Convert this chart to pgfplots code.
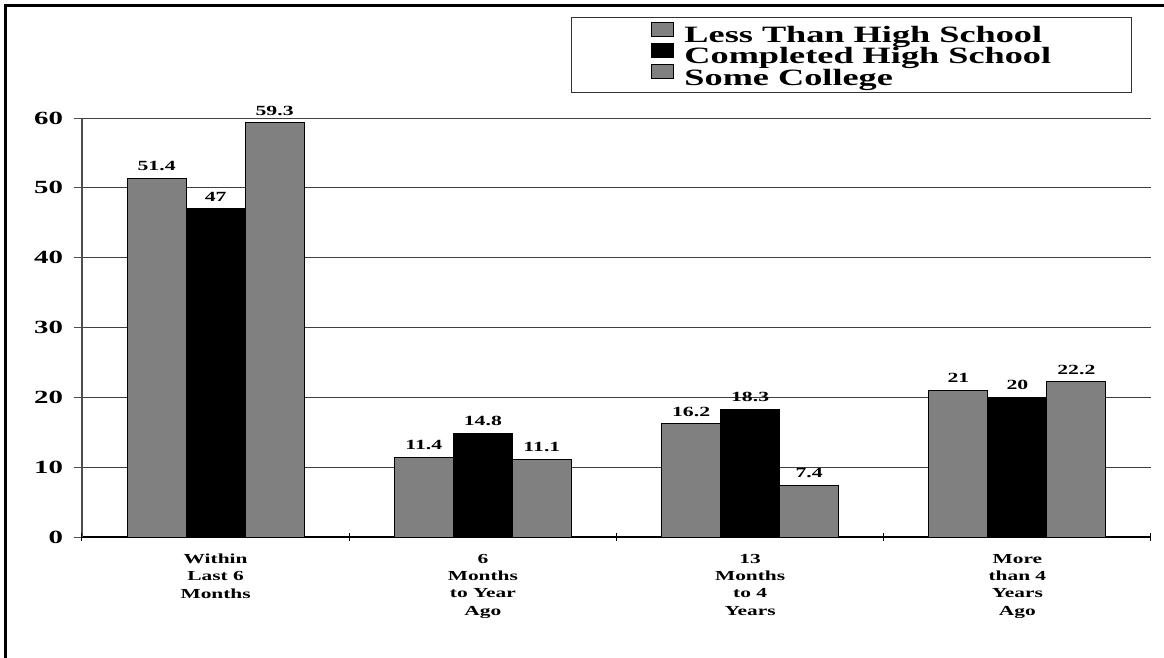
\documentclass[border=0pt]{standalone}
\usepackage{fontspec}
\setmainfont{Liberation Serif}[FakeStretch=1.55]
\usepackage{pgfplots}
\pgfplotsset{compat=1.18}
\definecolor{barg}{HTML}{808080}

\begin{document}
\begin{tikzpicture}
\useasboundingbox (0pt,0pt) rectangle (582pt,-329pt);
\fill[white] (0pt,0pt) rectangle (582pt,-329pt);
% outer frame (open at right and bottom)
\draw[line width=1.5pt] (2.9pt,-330pt) -- (2.9pt,-2.9pt) -- (583pt,-2.9pt);
\begin{axis}[
  at={(41pt,-268.5pt)}, anchor=south west,
  scale only axis, width=534.5pt, height=209.5pt,
  xmin=-0.5, xmax=3.5, ymin=0, ymax=60,
  ytick={0,10,...,60},
  xtick={0,1,2,3},
  xticklabels={{Within\\Last 6\\Months},{6\\Months\\to Year\\Ago},{13\\Months\\to 4\\Years},{More\\than 4\\Years\\Ago}},
  extra x ticks={-0.5,0.5,1.5,2.5,3.5},
  extra x tick labels={},
  xtick style={draw=none},
  extra x tick style={xtick style={draw=black, line width=0.5pt}, tick align=center},
  ytick style={draw=black!70, line width=0.5pt},
  major tick length=4pt,
  tick align=outside,
  axis x line*=bottom, axis y line*=left,
  x axis line style={black, line width=0.6pt},
  y axis line style={black!70, line width=0.6pt},
  ymajorgrids,
  grid style={black!75, line width=0.5pt},
  /pgf/number format/assume math mode=true,
  yticklabel style={font=\fontsize{9.3pt}{10pt}\selectfont\bfseries, xshift=-2pt},
  xticklabel style={font=\fontsize{6.9pt}{8.65pt}\selectfont\bfseries, align=center, yshift=-1pt},
  ybar, bar width=0.2208,
  clip=false,
  nodes near coords,
  every node near coord/.append style={font=\fontsize{7pt}{7.5pt}\selectfont\bfseries, inner sep=0pt, anchor=south, yshift=3.5pt, black},
  legend image code/.code={\draw[#1, line width=0.5pt] (0pt,0pt) rectangle (11pt,7pt);},
  legend cell align=left,
  legend style={at={(0.4574,1.241)}, anchor=north west, draw=black!80, line width=0.5pt,
    font=\fontsize{11.7pt}{10pt}\selectfont\bfseries,
    inner xsep=40pt, inner ysep=2pt, row sep=-1.6pt, column sep=5pt,
    nodes={inner sep=0pt, text height=8.25pt, text depth=1.75pt}},
]
\addplot[fill=barg, draw=black, line width=0.5pt, bar shift=-0.2208]
  coordinates {(0,51.4) (1,11.4) (2,16.2) (3,21)};
\addplot[fill=black, draw=black, line width=0.5pt, bar shift=0]
  coordinates {(0,47) (1,14.8) (2,18.3) (3,20)};
\addplot[fill=barg, draw=black, line width=0.5pt, bar shift=0.2208]
  coordinates {(0,59.3) (1,11.1) (2,7.4) (3,22.2)};
\legend{Less Than High School, Completed High School, Some College}
\end{axis}
\end{tikzpicture}
\end{document}
